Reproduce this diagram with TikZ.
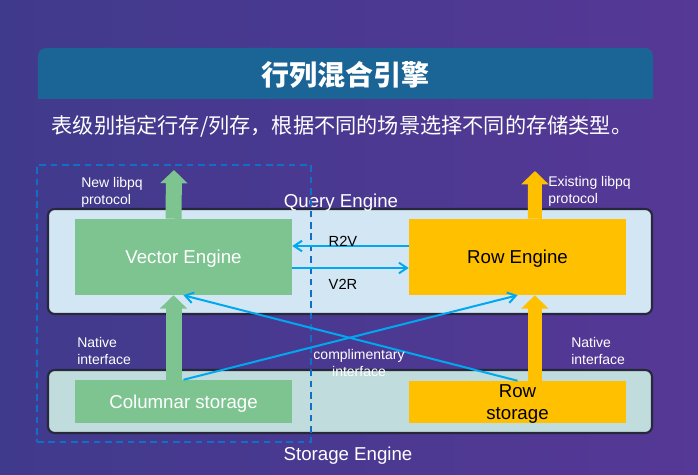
\documentclass[tikz,border=0pt]{standalone}
\usepackage{fontspec}
\setmainfont{Liberation Sans}
\newfontfamily\cjk{Noto Sans CJK SC}
\usetikzlibrary{arrows.meta}
\definecolor{bgl}{RGB}{64,58,140}
\definecolor{bgr}{RGB}{86,56,150}
\definecolor{banner}{RGB}{27,100,150}
\definecolor{qfill}{RGB}{210,230,244}
\definecolor{sfill}{RGB}{192,220,220}
\definecolor{edgec}{RGB}{40,40,60}
\definecolor{vgreen}{RGB}{126,196,145}
\definecolor{ryellow}{RGB}{255,192,0}
\definecolor{lblue}{RGB}{0,168,240}
\definecolor{dblue}{RGB}{16,112,200}
\def\pxu{0.75pt}
\tikzset{
  layerbox/.style={draw=edgec, line width=1.6pt, rounded corners=5pt, minimum width=604*\pxu, inner sep=0pt},
  enginebox/.style={minimum width=217*\pxu, minimum height=76*\pxu, inner sep=0pt, text depth=0pt, font=\fontsize{14}{16}\selectfont},
  storebox/.style={minimum width=217*\pxu, inner sep=0pt, text depth=0pt, font=\fontsize{14}{16.5}\selectfont, align=center},
  smalllbl/.style={text=white, font=\fontsize{10.5}{12.8}\selectfont, align=left, inner sep=0pt},
  biglbl/.style={text=white, font=\fontsize{14}{16}\selectfont, inner sep=0pt, text depth=0pt},
  convlbl/.style={text=black, font=\fontsize{11}{13}\selectfont, inner sep=0pt},
  thinarrow/.style={draw=lblue, line width=1.5pt, -{Straight Barb[length=6pt,width=8pt]}},
  greenarrow/.style={draw=vgreen, line width=16*\pxu, -{Triangle[length=10pt,width=20pt]}},
  yellowarrow/.style={draw=ryellow, line width=14*\pxu, -{Triangle[length=10pt,width=20pt]}},
}
\begin{document}
\begin{tikzpicture}[x=0.75pt,y=-0.75pt]
\useasboundingbox (0,0) rectangle (698,474);
\shade[left color=bgl, right color=bgr] (0,0) rectangle (698,474);
% banner
\fill[banner, rounded corners=6pt] (38,48) rectangle (653,99);
\fill[banner] (38,75) rectangle (653,99);
\node[text=white, font=\cjk\bfseries\fontsize{21}{24}\selectfont] (title) at (345,75) {行列混合引擎};
\node[text=white, font=\cjk\fontsize{15.9}{20}\selectfont] (subtitle) at (342,126) {表级别指定行存/列存，根据不同的场景选择不同的存储类型。};
% layers
\node[layerbox, fill=qfill, minimum height=105*\pxu] (query) at (350,261.5) {};
\node[layerbox, fill=sfill, minimum height=63*\pxu] (storage) at (350,401.5) {};
\node[biglbl] (qlbl) at (341,201) {Query Engine};
\node[biglbl] (slbl) at (348,454) {Storage Engine};
% engines
\node[enginebox, fill=vgreen, text=white] (vec) at (183.5,257) {Vector Engine};
\node[enginebox, fill=ryellow, text=black] (row) at (517.5,257) {Row Engine};
\node[storebox, fill=vgreen, text=white, minimum height=43*\pxu] (colst) at (183.5,401.5) {Columnar storage};
\node[storebox, fill=ryellow, text=black, minimum height=42*\pxu] (rowst) at (517.5,402) {Row\\storage};
% dashed frame
\node[draw=dblue, line width=1.2pt, dash pattern=on 5pt off 3.5pt, minimum width=274*\pxu, minimum height=277*\pxu, inner sep=0pt] (frame) at (174,303.5) {};
% block arrows
\coordinate (newout) at (174,170);
\coordinate (oldout) at (535,171);
\draw[greenarrow] ([xshift=-7.5pt]vec.north) -- (newout);
\draw[greenarrow] ([xshift=-7.5pt]colst.north) -- ([xshift=-7.5pt]vec.south);
\draw[yellowarrow] ([xshift=13pt]row.north) -- (oldout);
\draw[yellowarrow] ([xshift=13pt]rowst.north) -- ([xshift=13pt]row.south);
% conversions
\draw[thinarrow] ([yshift=8.25pt]row.west) -- ([yshift=8.25pt]vec.east);
\draw[thinarrow] ([yshift=-8.25pt]vec.east) -- ([yshift=-8.25pt]row.west);
\node[convlbl] (r2v) at (343,241) {R2V};
\node[convlbl] (v2r) at (343,284) {V2R};
% cross
\draw[thinarrow] (colst.north) -- (row.south);
\draw[thinarrow] (rowst.north) -- (vec.south);
% labels
\node[smalllbl, anchor=west] (newlbl) at (81,192) {New libpq\\protocol};
\node[smalllbl, anchor=west] (oldlbl) at (548,191) {Existing libpq\\protocol};
\node[smalllbl, anchor=west] (natl) at (77,351) {Native\\interface};
\node[smalllbl, anchor=west] (natr) at (571,351) {Native\\interface};
\node[smalllbl, align=center] (compl) at (359,363) {complimentary\\interface};
\end{tikzpicture}
\end{document}
